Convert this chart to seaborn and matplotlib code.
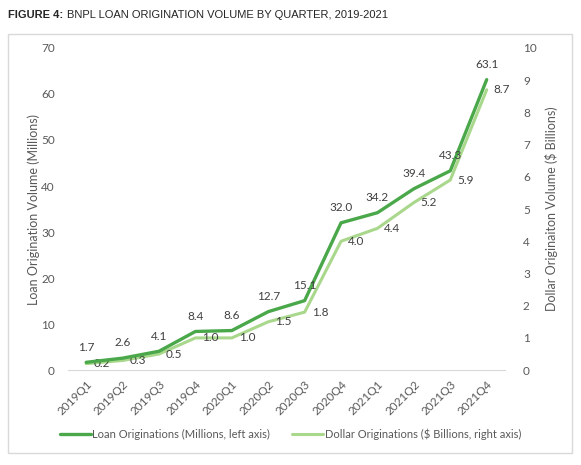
import numpy as np
import pandas as pd
import seaborn as sns
import matplotlib.pyplot as plt
from matplotlib.patches import Rectangle

quarters = ['2019Q1', '2019Q2', '2019Q3', '2019Q4', '2020Q1', '2020Q2',
            '2020Q3', '2020Q4', '2021Q1', '2021Q2', '2021Q3', '2021Q4']
loan_orig = [1.7, 2.6, 4.1, 8.4, 8.6, 12.7, 15.1, 32.0, 34.2, 39.4, 43.3, 63.1]
dollar_orig = [0.2, 0.3, 0.5, 1.0, 1.0, 1.5, 1.8, 4.0, 4.4, 5.2, 5.9, 8.7]

dark = '#4aa84a'
light = '#a9d88c'
grey = '#595959'

sns.set_style('white')
plt.rcParams['font.family'] = ['Lato', 'DejaVu Sans']

df = pd.DataFrame({'quarter': quarters, 'loan': loan_orig, 'dollar': dollar_orig})
df['x'] = np.arange(len(df))

fig = plt.figure(figsize=(5.81, 4.65), dpi=100)
ax = fig.add_axes([0.117, 0.204, 0.752, 0.693])
ax2 = ax.twinx()

sns.lineplot(data=df, x='x', y='loan', ax=ax, color=dark, linewidth=2.4,
             label='Loan Originations (Millions, left axis)', legend=False)
sns.lineplot(data=df, x='x', y='dollar', ax=ax2, color=light, linewidth=2.2,
             label='Dollar Originations ($ Billions, right axis)', legend=False)
ax2.set_zorder(ax.get_zorder() - 1)
ax.patch.set_visible(False)

ax.set_xlim(-0.5, len(quarters) - 0.5)
ax.set_ylim(0, 70)
ax2.set_ylim(0, 10)
ax.set_yticks(range(0, 71, 10))
ax2.set_yticks(range(0, 11, 1))
ax.set_xticks(df['x'])
ax.set_xticklabels(quarters, rotation=45, ha='right', rotation_mode='anchor',
                   fontsize=8.5, color=grey)
ax.tick_params(axis='x', length=0, pad=6)
ax.tick_params(axis='y', length=0, pad=9.5, labelsize=8.5, labelcolor=grey)
ax2.tick_params(axis='y', length=0, pad=13, labelsize=8.5, labelcolor=grey)

for a in (ax, ax2):
    for s in ('top', 'left', 'right', 'bottom'):
        a.spines[s].set_visible(False)
ax.spines['bottom'].set_visible(True)
ax.spines['bottom'].set_color('#d9d9d9')

ax.set_xlabel('')
ax.set_ylabel('Loan Origination Volume (Millions)', fontsize=9, color=grey, labelpad=1)
ax2.set_ylabel('Dollar Originaiton Volume ($ Billions)', fontsize=9, color=grey, labelpad=6)

for x, v in zip(df['x'], loan_orig):
    ax.annotate(f'{v:.1f}', (x, v), xytext=(0, 7), textcoords='offset points',
                ha='center', va='bottom', fontsize=8.5, color='#404040')
for x, v in zip(df['x'], dollar_orig):
    ax2.annotate(f'{v:.1f}', (x, v), xytext=(5, 0), textcoords='offset points',
                 ha='left', va='center', fontsize=8.5, color='#404040')

h1, l1 = ax.get_legend_handles_labels()
h2, l2 = ax2.get_legend_handles_labels()
fig.legend(h1 + h2, l1 + l2, loc='center', bbox_to_anchor=(0.5, 0.066), ncol=2,
           frameon=False, fontsize=8, handlelength=2.8, handletextpad=0.1,
           columnspacing=2.0, labelcolor=grey)

fig.patches.append(Rectangle((8 / 581, 1 - 453 / 465), 564 / 581, 419 / 465,
                             transform=fig.transFigure, fill=False,
                             edgecolor='#d9d9d9', linewidth=1))

fig.text(8 / 581, 1 - 15 / 465, 'FIGURE 4:', fontsize=8, fontweight='bold',
         family='Liberation Sans', va='center', ha='left')
fig.text(67 / 581, 1 - 15 / 465, 'BNPL LOAN ORIGINATION VOLUME BY QUARTER, 2019-2021',
         fontsize=8, family='Liberation Sans', va='center', ha='left')

fig.savefig('out.png', dpi=100, facecolor='white')
